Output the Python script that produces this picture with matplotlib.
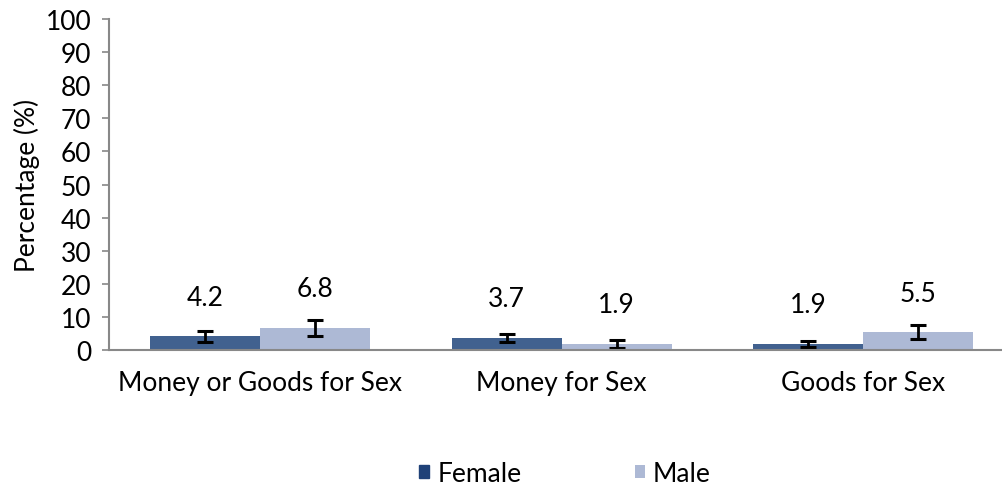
import matplotlib
matplotlib.use("Agg")
import matplotlib.pyplot as plt
import numpy as np

categories = ["Money or Goods for Sex", "Money for Sex", "Goods for Sex"]
female = [4.2, 3.7, 1.9]
male = [6.8, 1.9, 5.5]
female_err = [1.6, 1.3, 1.0]
male_err = [2.4, 1.2, 2.2]
yticks = list(range(0, 101, 10))

plt.rcParams['font.family'] = ['Lato', 'DejaVu Sans']
FS = 19

fig = plt.figure(figsize=(10.02, 4.85), dpi=100)
ax = fig.add_axes([0.109, 0.276, 0.903, 0.683])

x = np.arange(len(categories))
w = 0.365
bf = ax.bar(x - w / 2, female, w, color='#41618F', label='Female')
bm = ax.bar(x + w / 2, male, w, color='#ADB9D5', label='Male')
ax.errorbar(x - w / 2, female, yerr=female_err, fmt='none', ecolor='black',
            elinewidth=2, capsize=6, capthick=2.2)
ax.errorbar(x + w / 2, male, yerr=male_err, fmt='none', ecolor='black',
            elinewidth=2, capsize=6, capthick=2.2)

for xs, vals in ((x - w / 2, female), (x + w / 2, male)):
    for xi, v in zip(xs, vals):
        ax.annotate(f"{v:.1f}", (xi, v), textcoords="offset points", xytext=(0, 28),
                    ha='center', va='center', fontsize=FS)

ax.set_xlim(-0.5, len(categories) - 0.5)
ax.set_ylim(0, 100)
ax.set_yticks(yticks)
ax.set_xticks(x)
ax.set_xticklabels(categories, fontsize=FS)
ax.tick_params(axis='y', labelsize=FS, length=5, color='#888888', width=1.2, pad=8)
ax.tick_params(axis='x', length=0, pad=14)
for s in ('top', 'right'):
    ax.spines[s].set_visible(False)
for s in ('left', 'bottom'):
    ax.spines[s].set_color('#888888')
    ax.spines[s].set_linewidth(1.5)
ax.set_ylabel('Percentage (%)', fontsize=FS, labelpad=4)

leg = fig.legend(handles=[bf, bm], labels=['Female', 'Male'], loc='center',
                 bbox_to_anchor=(0.564, 0.022), ncol=2, frameon=False, fontsize=FS,
                 handlelength=0.38, handleheight=0.38, handletextpad=0.3, columnspacing=4.3)
leg.legend_handles[0].set_color('#1F4178')

fig.savefig("out.png", dpi=100)
